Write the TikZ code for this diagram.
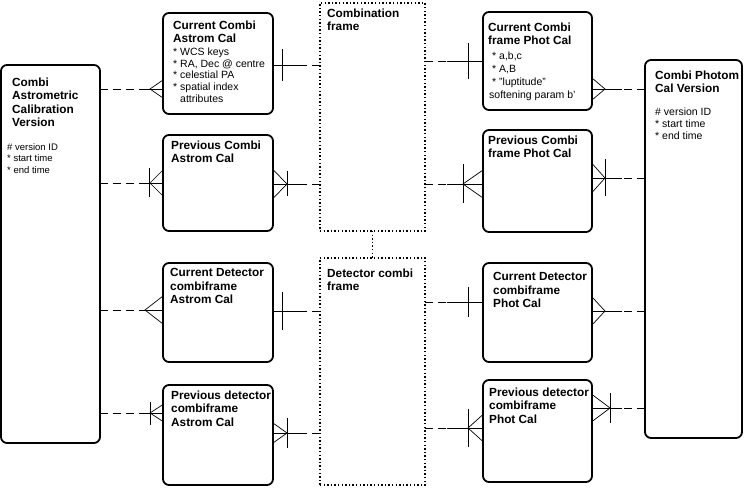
\documentclass[tikz,border=0pt]{standalone}
\usepackage{fontspec}
\setmainfont{Liberation Sans}
\usetikzlibrary{calc}
\newcommand\relDS[3]{\draw[dsh] (#1) -- ($(#1)!#3!(#2)$); \draw[conn] ($(#1)!#3!(#2)$) -- (#2);}
\newcommand\crowft[3]{\draw[conn] ([yshift=#3]#1) -- ([xshift=#2]#1) -- ([yshift=-#3]#1);}
\newcommand\crowbar[3]{\draw[conn] ([shift={(#2,#3)}]#1) -- ([shift={(#2,-#3)}]#1);}
\begin{document}
\begin{tikzpicture}[x=1pt,y=-1pt,
  ebox/.style={draw, line width=1.8pt, rounded corners=6pt, inner sep=0pt, outer sep=0pt, anchor=north west},
  fbox/.style={draw, line width=1.4pt, dash pattern=on 1.4pt off 2.2pt, inner sep=0pt, outer sep=0pt, anchor=north west},
  fline/.style={line width=1.4pt, dash pattern=on 1.4pt off 2.2pt},
  ttl/.style={anchor=north west, inner sep=0pt, align=left, font=\bfseries\fontsize{11.8}{13.5}\selectfont},
  bdy/.style={anchor=north west, inner sep=0pt, align=left, font=\fontsize{10.5}{11.7}\selectfont},
  conn/.style={line width=0.7pt},
  dsh/.style={conn, dash pattern=on 8pt off 5pt}]
\useasboundingbox (0,0) rectangle (745,489);
% entity boxes
\node[ebox, minimum width=99pt, minimum height=378pt] (L) at (1,65) {};
\node[ebox, minimum width=110pt, minimum height=101pt] (A1) at (163,13) {};
\node[ebox, minimum width=110pt, minimum height=96pt] (A2) at (163,135) {};
\node[ebox, minimum width=110pt, minimum height=99pt] (A3) at (163,263) {};
\node[ebox, minimum width=110pt, minimum height=100pt] (A4) at (163,385) {};
\node[ebox, minimum width=109pt, minimum height=98pt] (B1) at (483,12) {};
\node[ebox, minimum width=109pt, minimum height=102pt] (B2) at (483,130) {};
\node[ebox, minimum width=109pt, minimum height=99pt] (B3) at (483,263) {};
\node[ebox, minimum width=109pt, minimum height=102pt] (B4) at (483,380) {};
\node[ebox, minimum width=97pt, minimum height=378pt] (R) at (645,60) {};
\node[fbox, minimum width=105pt, minimum height=228pt] (Comb) at (320,3) {};
\node[fbox, minimum width=105pt, minimum height=227pt] (Det) at (320,258) {};
\draw[fline] (Comb.south) -- (Det.north);
% texts
\node[ttl] (tL) at (12,77.5) {Combi\\Astrometric\\Calibration\\Version};
\node[bdy, font=\fontsize{9.5}{11.5}\selectfont] (bL) at (7,143) {\# version ID\\* start time\\* end time};
\node[ttl] (tA1) at (173,20.5) {Current Combi\\Astrom Cal};
\node[bdy] (bA1) at (173,47.5) {* WCS keys\\* RA, Dec @ centre\\* celestial PA\\* spatial index\\\hspace*{7pt}attributes};
\node[ttl] (tA2) at (171,140.5) {Previous Combi\\Astrom Cal};
\node[ttl] (tA3) at (170,268.5) {Current Detector\\combiframe\\Astrom Cal};
\node[ttl] (tA4) at (171,390.5) {Previous detector\\combiframe\\Astrom Cal};
\node[ttl] (tB1) at (488,22.5) {Current Combi\\frame Phot Cal};
\node[bdy, font=\fontsize{10.5}{13}\selectfont] (bB1) at (492,52) {* a,b,c\\* A,B\\* "luptitude"\\\hspace*{-3pt}softening param b'};
\node[ttl] (tB2) at (488,135.5) {Previous Combi\\frame Phot Cal};
\node[ttl] (tB3) at (493,272.5) {Current Detector\\combiframe\\Phot Cal};
\node[ttl] (tB4) at (489,387.5) {Previous detector\\combiframe\\Phot Cal};
\node[ttl] (tR) at (655,70.5) {Combi Photom\\Cal Version};
\node[bdy, font=\fontsize{10.5}{12}\selectfont] (bR) at (655,107.5) {\# version ID\\* start time\\* end time};
\node[ttl] (tC) at (327,8.5) {Combination\\frame};
\node[ttl] (tD) at (327,268.5) {Detector combi\\frame};
% connector end points
\coordinate (r1a) at (L.east |- 0,89);   \coordinate (r1b) at (A1.west |- 0,89);
\coordinate (r1c) at (A1.east |- 0,65);  \coordinate (r1d) at (Comb.west |- 0,65);
\coordinate (r1e) at (Comb.east |- 0,61); \coordinate (r1f) at (B1.west |- 0,61);
\coordinate (r1g) at (B1.east |- 0,89);  \coordinate (r1h) at (R.west |- 0,89);
\coordinate (r2a) at (L.east |- 0,183);  \coordinate (r2b) at (A2.west |- 0,183);
\coordinate (r2c) at (A2.east |- 0,184); \coordinate (r2d) at (Comb.west |- 0,184);
\coordinate (r2e) at (Comb.east |- 0,184); \coordinate (r2f) at (B2.west |- 0,184);
\coordinate (r2g) at (B2.east |- 0,178); \coordinate (r2h) at (R.west |- 0,178);
\coordinate (r3a) at (L.east |- 0,310);  \coordinate (r3b) at (A3.west |- 0,310);
\coordinate (r3c) at (A3.east |- 0,311); \coordinate (r3d) at (Det.west |- 0,311);
\coordinate (r3e) at (Det.east |- 0,302); \coordinate (r3f) at (B3.west |- 0,302);
\coordinate (r3g) at (B3.east |- 0,311); \coordinate (r3h) at (R.west |- 0,311);
\coordinate (r4a) at (L.east |- 0,413);  \coordinate (r4b) at (A4.west |- 0,413);
\coordinate (r4c) at (A4.east |- 0,433); \coordinate (r4d) at (Det.west |- 0,433);
\coordinate (r4e) at (Det.east |- 0,428); \coordinate (r4f) at (B4.west |- 0,428);
\coordinate (r4g) at (B4.east |- 0,408); \coordinate (r4h) at (R.west |- 0,408);
% row 1
\relDS{r1a}{r1b}{0.63} \crowft{r1b}{-13pt}{9pt}
\relDS{r1d}{r1c}{0.43} \crowbar{r1c}{9pt}{16pt}
\relDS{r1e}{r1f}{0.38} \crowbar{r1f}{-15pt}{18pt}
\relDS{r1h}{r1g}{0.43} \crowft{r1g}{13pt}{11pt}
% row 2
\relDS{r2a}{r2b}{0.63} \crowft{r2b}{-13pt}{13pt} \crowbar{r2b}{-14pt}{14.5pt}
\relDS{r2d}{r2c}{0.43} \crowft{r2c}{14pt}{14.5pt} \crowbar{r2c}{14pt}{12.5pt}
\relDS{r2e}{r2f}{0.38} \crowft{r2f}{-20pt}{14pt} \crowbar{r2f}{-20pt}{19.5pt}
\relDS{r2h}{r2g}{0.43} \crowft{r2g}{13pt}{14.5pt} \crowbar{r2g}{13pt}{18.5pt}
% row 3
\relDS{r3a}{r3b}{0.63} \crowft{r3b}{-18pt}{14pt}
\relDS{r3d}{r3c}{0.43} \crowbar{r3c}{9pt}{19pt}
\relDS{r3e}{r3f}{0.38} \crowbar{r3f}{-15pt}{15pt}
\relDS{r3h}{r3g}{0.43} \crowft{r3g}{13pt}{14pt}
% row 4
\relDS{r4a}{r4b}{0.63} \crowft{r4b}{-13pt}{8.5pt} \crowbar{r4b}{-13pt}{11.5pt}
\relDS{r4d}{r4c}{0.43} \crowft{r4c}{14pt}{10pt} \crowbar{r4c}{14pt}{15pt}
\relDS{r4e}{r4f}{0.38} \crowft{r4f}{-15pt}{13.5pt} \crowbar{r4f}{-15pt}{19pt}
\relDS{r4h}{r4g}{0.43} \crowft{r4g}{18pt}{13.5pt} \crowbar{r4g}{18pt}{15pt}
\end{tikzpicture}
\end{document}
